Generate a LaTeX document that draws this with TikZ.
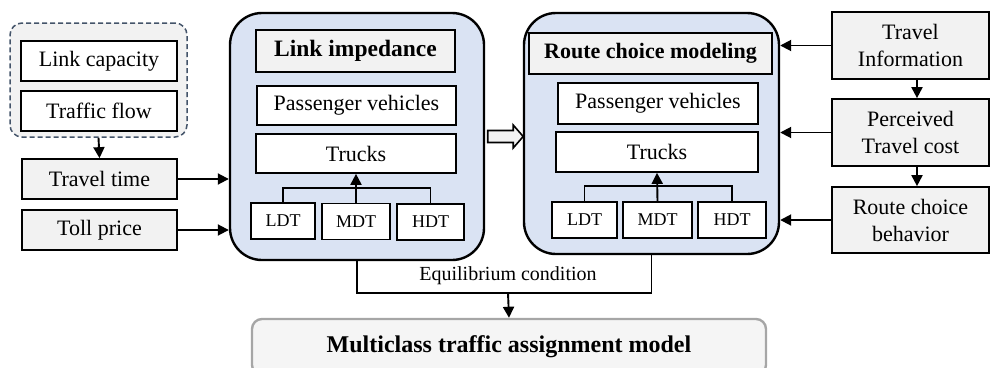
\documentclass[tikz,border=0pt]{standalone}
\usepackage{fontspec}
\setmainfont{Liberation Serif}
\usetikzlibrary{arrows.meta,calc}
\definecolor{bluefill}{HTML}{DAE3F3}
\definecolor{grayfill}{HTML}{F2F2F2}
\definecolor{dashcol}{HTML}{44546A}
\definecolor{mcborder}{HTML}{A6A6A6}
\definecolor{mcfill}{HTML}{F5F5F5}
\begin{document}
\begin{tikzpicture}[x=1pt,y=-1pt,
  every node/.style={font=\fontsize{22}{27}\selectfont, inner sep=0pt, align=center},
  wbox/.style={draw, line width=1.7pt, fill=white},
  gbox/.style={draw, line width=1.7pt, fill=grayfill},
  smallbox/.style={draw, line width=1.7pt, fill=white, font=\fontsize{18}{22}\selectfont},
  bigbox/.style={draw, line width=2.4pt, fill=bluefill, rounded corners=32pt},
  groupbox/.style={draw=dashcol, dash pattern=on 5pt off 3pt, line width=1.5pt, rounded corners=12pt, fill=grayfill},
  mcbox/.style={draw=mcborder, line width=2.4pt, fill=mcfill, rounded corners=10pt, font=\fontsize{24}{28}\selectfont\bfseries},
  arr/.style={-{Triangle[length=11pt,width=11pt]}, line width=1.9pt},
  plain/.style={line width=1.9pt},
  hollow/.style={draw, line width=1.6pt, fill=grayfill}
]
\useasboundingbox (0,0) rectangle (990,367);
\clip (0,0) rectangle (990,367);

% left inputs
\node[groupbox, minimum width=177, minimum height=114] (grp) at (98.5,80) {};
\node[wbox, minimum width=156, minimum height=40] (cap) at (99,61) {Link capacity};
\node[wbox, minimum width=156, minimum height=40] (flow) at (99,111) {Traffic flow};
\node[gbox, minimum width=155, minimum height=40] (tt) at (99.5,179) {Travel time};
\node[gbox, minimum width=155, minimum height=40] (toll) at (99.5,230) {Toll price};

% left big box
\node[bigbox, minimum width=254, minimum height=247] (lb) at (357,136.5) {};
\node[gbox, minimum width=199, minimum height=42, font=\fontsize{23.5}{28}\selectfont\bfseries] (li) at (355.5,51) {Link impedance};
\node[wbox, minimum width=199, minimum height=39] (lpv) at (356.5,105.5) {Passenger vehicles};
\node[wbox, minimum width=200, minimum height=39] (ltr) at (356,153.5) {Trucks};
\node[smallbox, minimum width=64, minimum height=36] (lldt) at (283,221) {LDT};
\node[smallbox, minimum width=68, minimum height=36] (lmdt) at (356,221.5) {MDT};
\node[smallbox, minimum width=67, minimum height=36] (lhdt) at (430.5,222) {HDT};

% right big box
\node[bigbox, minimum width=255, minimum height=241] (rb) at (651.5,133.5) {};
\node[gbox, minimum width=243, minimum height=41, font=\fontsize{22}{27}\selectfont\bfseries] (rc) at (650.5,53.5) {Route choice modeling};
\node[wbox, minimum width=200, minimum height=41] (rpv) at (658,103.5) {Passenger vehicles};
\node[wbox, minimum width=202, minimum height=40] (rtr) at (657,152) {Trucks};
\node[smallbox, minimum width=65, minimum height=36] (rldt) at (584.5,220) {LDT};
\node[smallbox, minimum width=69, minimum height=36] (rmdt) at (657.5,220) {MDT};
\node[smallbox, minimum width=68, minimum height=36] (rhdt) at (732,220) {HDT};

% right inputs
\node[gbox, minimum width=157, minimum height=67] (ti) at (910.5,45.5) {Travel\\Information};
\node[gbox, minimum width=157, minimum height=67] (pc) at (910.5,132.5) {Perceived\\Travel cost};
\node[gbox, minimum width=157, minimum height=66] (rcb) at (910.5,220) {Route choice\\behavior};

% bottom box
\node[mcbox, minimum width=514, minimum height=56] (mc) at (509,347) {Multiclass traffic assignment model};

% connectors left
\draw[arr] (grp.south) -- (tt.north);
\draw[arr] (tt.east) -- (tt.east -| lb.west);
\draw[arr] (toll.east) -- (toll.east -| lb.west);

% truck class connectors
\draw[plain] (lldt.north) -- ++(0,-14) -| (lhdt.north);
\draw[arr] (lmdt.north) -- (ltr.south);
\draw[plain] (rldt.north) -- ++(0,-15) -| (rhdt.north);
\draw[arr] (rmdt.north) -- (rtr.south);

% right connectors
\draw[arr] (ti.west) -- (ti.west -| rb.east);
\draw[arr] (pc.west) -- (pc.west -| rb.east);
\draw[arr] (rcb.west) -- (rcb.west -| rb.east);
\draw[arr] ([xshift=6.5pt]ti.south) -- ([xshift=6.5pt]pc.north);
\draw[arr] ([xshift=6.5pt]pc.south) -- ([xshift=6.5pt]rcb.north);

% hollow arrow between boxes
\draw[hollow] ($(lb.east)+(2.5,-6)$) -- ++(25.5,0) -- ++(0,-5.5) -- ++(10,11.5) -- ++(-10,11.5) -- ++(0,-5.5) -- ++(-25.5,0) -- cycle;

% equilibrium
\coordinate (eqm) at (508,293);
\draw[plain] (lb.south) |- (eqm) -| (rb.south);
\draw[arr] (eqm) -- (mc.north);
\node[font=\fontsize{20}{24}\selectfont] (eqlab) at (508,276) {Equilibrium condition};
\end{tikzpicture}
\end{document}
